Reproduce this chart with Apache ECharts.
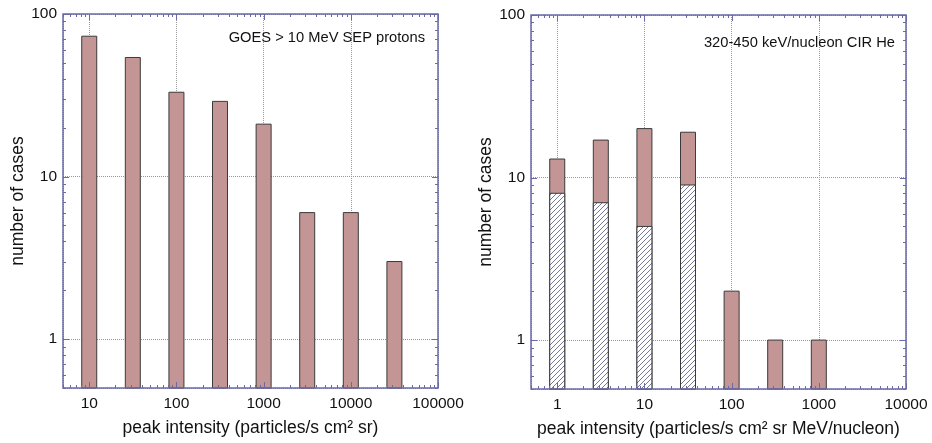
<!DOCTYPE html>
<html>
<head>
<meta charset="utf-8">
<script src="https://cdn.jsdelivr.net/npm/echarts@6/dist/echarts.min.js"></script>
<style>
html,body{margin:0;padding:0;background:#fff;}
#chart{width:932px;height:443px;}
</style>
</head>
<body>
<div id="chart"></div>
<script>
// ---- data ----
const sepIntensity = [10, 31.6, 100, 316, 1000, 3162, 10000, 31623];
const sepCases     = [73, 54, 33, 29, 21, 6, 6, 3];

const cirIntensity = [1, 3.16, 10, 31.6, 100, 316, 1000];
const cirCasesAll  = [13, 17, 20, 19, 2, 1, 1];
const cirCasesHatched = [8, 7, 5, 9];

const leftTickLabels  = ['10', '100', '1000', '10000', '100000'];
const rightTickLabels = ['1', '10', '100', '1000', '10000'];
const yTickLabels = ['1', '10', '100'];

const leftTitle  = 'GOES > 10 MeV SEP protons';
const rightTitle = '320-450 keV/nucleon CIR He';
const leftXName  = 'peak intensity (particles/s cm² sr)';
const rightXName = 'peak intensity (particles/s cm² sr MeV/nucleon)';
const yName = 'number of cases';

// ---- styles ----
const FONT = '"Liberation Sans", Arial, Helvetica, sans-serif';
const FRAME = '#6a6aa6';
const BAR_FILL = '#c49595';
const BAR_STROKE = '#3a3a3a';
const HALF_W = 0.086; // half bar width in decades

// hatch pattern
const hatch = document.createElement('canvas');
hatch.width = 5; hatch.height = 5;
(function(){
  const c = hatch.getContext('2d');
  c.fillStyle = '#ffffff'; c.fillRect(0,0,5,5);
  c.strokeStyle = '#646a8c'; c.lineWidth = 0.9;
  c.beginPath();
  c.moveTo(-1,6); c.lineTo(6,-1);
  c.moveTo(-1,1); c.lineTo(1,-1);
  c.moveTo(4,6); c.lineTo(6,4);
  c.stroke();
})();

const chart = echarts.init(document.getElementById('chart'));

function isPow10(v){ const l = Math.log10(v); return Math.abs(l - Math.round(l)) < 1e-6; }
function labelFmt(list){
  return function(v){
    if (!isPow10(v)) return '';
    const s = String(Math.round(v * 1000) / 1000);
    return list.indexOf(s) >= 0 ? s : '';
  };
}

function barRender(fill){
  return function(params, api){
    const x = api.value(0), y = api.value(1);
    const cs = params.coordSys;
    const bottom = cs.y + cs.height;
    const pL = api.coord([x * Math.pow(10, -HALF_W), y]);
    const pR = api.coord([x * Math.pow(10, HALF_W), y]);
    return {
      type: 'rect',
      shape: { x: pL[0], y: pL[1], width: pR[0] - pL[0], height: bottom - pL[1] },
      style: { fill: fill, stroke: BAR_STROKE, lineWidth: 1 }
    };
  };
}

function frameRender(xr, yr){
  return function(params, api){
    const cs = params.coordSys;
    const children = [];
    const top = cs.y, bot = cs.y + cs.height, lft = cs.x, rgt = cs.x + cs.width;
    const yRef = yr[0] * 2, xRef = xr[0] * 2;
    for (let k = Math.floor(Math.log10(xr[0])); k <= Math.ceil(Math.log10(xr[1])); k++) {
      for (let m = 1; m <= 9; m++) {
        const v = m * Math.pow(10, k);
        if (v < xr[0] * 0.9999 || v > xr[1] * 1.0001) continue;
        const px = Math.round(api.coord([v, yRef])[0]) + 0.5;
        const len = m === 1 ? 6 : 3;
        children.push({type:'line', shape:{x1:px,y1:bot,x2:px,y2:bot-len}, style:{stroke:FRAME,lineWidth:1}});
        children.push({type:'line', shape:{x1:px,y1:top,x2:px,y2:top+len}, style:{stroke:FRAME,lineWidth:1}});
      }
    }
    for (let k = Math.floor(Math.log10(yr[0])); k <= Math.ceil(Math.log10(yr[1])); k++) {
      for (let m = 1; m <= 9; m++) {
        const v = m * Math.pow(10, k);
        if (v < yr[0] * 0.9999 || v > yr[1] * 1.0001) continue;
        const py = Math.round(api.coord([xRef, v])[1]) + 0.5;
        const len = m === 1 ? 6 : 3;
        children.push({type:'line', shape:{x1:lft,y1:py,x2:lft+len,y2:py}, style:{stroke:FRAME,lineWidth:1}});
        children.push({type:'line', shape:{x1:rgt,y1:py,x2:rgt-len,y2:py}, style:{stroke:FRAME,lineWidth:1}});
      }
    }
    children.push({type:'rect', shape:{x:lft,y:top,width:cs.width,height:cs.height}, style:{fill:'none',stroke:FRAME,lineWidth:1.5}});
    return {type:'group', children: children};
  };
}

const leftX = [5, 100000], rightX = [0.5, 10000], yR = [0.5, 100];

function xAxis(idx, range, labels, name){
  return {
    type: 'log', logBase: 10, gridIndex: idx, min: range[0], max: range[1],
    name: name, nameLocation: 'middle', nameGap: 31,
    nameTextStyle: { fontSize: 17.5, color: '#111', fontFamily: FONT },
    axisLine: { show: false }, axisTick: { show: false },
    axisLabel: { formatter: labelFmt(labels), fontSize: 15.5, color: '#111', fontFamily: FONT, margin: 8,
                 showMinLabel: true, showMaxLabel: true, hideOverlap: false },
    splitLine: { show: true, lineStyle: { color: '#999', type: 'dotted', width: 1 } },
    minorSplitLine: { show: false }
  };
}
function yAxis(idx, name){
  return {
    type: 'log', logBase: 10, gridIndex: idx, min: yR[0], max: yR[1],
    name: name, nameLocation: 'middle', nameGap: 33, nameRotate: 90,
    nameTextStyle: { fontSize: 17.5, color: '#111', fontFamily: FONT },
    axisLine: { show: false }, axisTick: { show: false },
    axisLabel: { formatter: labelFmt(yTickLabels), fontSize: 15.5, color: '#111', fontFamily: FONT, margin: 6 },
    splitLine: { show: true, lineStyle: { color: '#999', type: 'dotted', width: 1 } }
  };
}

const option = {
  backgroundColor: '#fff',
  animation: false,
  grid: [
    { left: 63, right: 494, top: 14, bottom: 55 },
    { left: 531, right: 26, top: 15, bottom: 52 }
  ],
  title: [
    { text: leftTitle, right: 502, top: 25, textStyle: { fontSize: 14.7, fontWeight: 'normal', color: '#111', fontFamily: FONT } },
    { text: rightTitle, right: 32, top: 30, textStyle: { fontSize: 14.7, fontWeight: 'normal', color: '#111', fontFamily: FONT } }
  ],
  xAxis: [ xAxis(0, leftX, leftTickLabels, leftXName), xAxis(1, rightX, rightTickLabels, rightXName) ],
  yAxis: [ yAxis(0, yName), yAxis(1, yName) ],
  series: [
    { type: 'custom', xAxisIndex: 0, yAxisIndex: 0, z: 3, renderItem: barRender(BAR_FILL),
      data: sepIntensity.map((x, i) => [x, sepCases[i]]) },
    { type: 'custom', xAxisIndex: 1, yAxisIndex: 1, z: 3, renderItem: barRender(BAR_FILL),
      data: cirIntensity.map((x, i) => [x, cirCasesAll[i]]) },
    { type: 'custom', xAxisIndex: 1, yAxisIndex: 1, z: 4, renderItem: barRender({ image: hatch, repeat: 'repeat' }),
      data: cirCasesHatched.map((v, i) => [cirIntensity[i], v]) },
    { type: 'custom', xAxisIndex: 0, yAxisIndex: 0, z: 10, silent: true, clip: false,
      renderItem: frameRender(leftX, yR), data: [[10, 1]] },
    { type: 'custom', xAxisIndex: 1, yAxisIndex: 1, z: 10, silent: true, clip: false,
      renderItem: frameRender(rightX, yR), data: [[1, 1]] }
  ]
};
chart.setOption(option);
</script>
</body>
</html>
